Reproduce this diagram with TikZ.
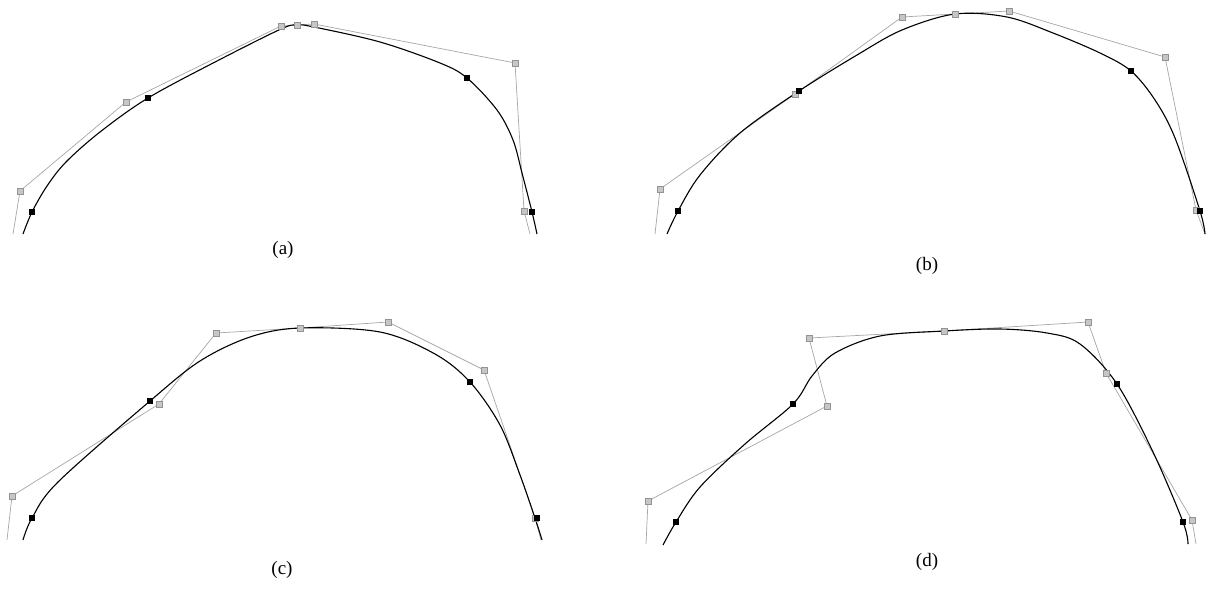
\documentclass[tikz,border=0pt]{standalone}
\usepackage{fontspec}
\setmainfont{Liberation Serif}
\begin{document}
\begin{tikzpicture}[x=1pt,y=-1pt,
  ctrl/.style={rectangle, draw=gray!85, fill=gray!45, line width=0.4pt, minimum size=5.5pt, inner sep=0pt},
  knot/.style={rectangle, fill=black, minimum size=6pt, inner sep=0pt},
  poly/.style={draw=gray!70, line width=0.7pt, line join=round},
  curve/.style={draw=black, line width=1.1pt, line join=round},
  lab/.style={font=\fontsize{19}{22}\selectfont, inner sep=0pt}]
\useasboundingbox (0,0) rectangle (1209,590);

% ---------------- (a)
\coordinate (a0) at (13,234);
\coordinate (a1) at (20,191);
\coordinate (a2) at (126,102);
\coordinate (a3) at (281,26);
\coordinate (a4) at (297,25);
\coordinate (a5) at (314,24);
\coordinate (a6) at (515,63);
\coordinate (a7) at (524,211);
\coordinate (a8) at (530,234);
\draw[poly] (a0) -- (a1) -- (a2) -- (a3) -- (a4) -- (a5) -- (a6) -- (a7) -- (a8);
\draw[curve] plot[smooth, tension=0.55] coordinates {(23,234) (32,212) (47,186) (66,162) (100,132) (148,98) (217,61) (281,29) (297,25) (314,27) (380,42) (440,63) (467,78) (497,110) (513,140) (522,173) (532,212) (537,234)};
\foreach \i in {1,...,7} \node[ctrl] (ca\i) at (a\i) {};
\node[knot] (ka1) at (32,212) {};
\node[knot] (ka2) at (148,98) {};
\node[knot] (ka3) at (467,78) {};
\node[knot] (ka4) at (532,212) {};
\node[lab] (la) at (283,250) {(a)};

% ---------------- (b)
\coordinate (b0) at (655,234);
\coordinate (b1) at (660,189);
\coordinate (b2) at (795,94);
\coordinate (b3) at (902,17);
\coordinate (b4) at (955,14);
\coordinate (b5) at (1009,11);
\coordinate (b6) at (1165,57);
\coordinate (b7) at (1196,210);
\coordinate (b8) at (1205,234);
\draw[poly] (b0) -- (b1) -- (b2) -- (b3) -- (b4) -- (b5) -- (b6) -- (b7) -- (b8);
\draw[curve] plot[smooth, tension=0.55] coordinates {(667,234) (678,211) (700,175) (740,133) (799,91) (857,55) (902,30) (955,14) (1007,17) (1053,33) (1100,53) (1131,71) (1155,100) (1175,138) (1200,211) (1205,234)};
\foreach \i in {1,...,7} \node[ctrl] (cb\i) at (b\i) {};
\node[knot] (kb1) at (678,211) {};
\node[knot] (kb2) at (799,91) {};
\node[knot] (kb3) at (1131,71) {};
\node[knot] (kb4) at (1200,211) {};
\node[lab] (lb) at (927,266) {(b)};

% ---------------- (c)
\coordinate (c0) at (7,540);
\coordinate (c1) at (12,496);
\coordinate (c2) at (159,404);
\coordinate (c3) at (216,333);
\coordinate (c4) at (300,328);
\coordinate (c5) at (388,322);
\coordinate (c6) at (484,370);
\coordinate (c7) at (535,518);
\coordinate (c8) at (541,540);
\draw[poly] (c0) -- (c1) -- (c2) -- (c3) -- (c4) -- (c5) -- (c6) -- (c7) -- (c8);
\draw[curve] plot[smooth, tension=0.55] coordinates {(23,540) (32,518) (58,482) (150,401) (200,361) (250,337) (300,328) (380,332) (435,354) (470,382) (500,425) (520,475) (535,518) (542,540)};
\foreach \i in {1,...,7} \node[ctrl] (cc\i) at (c\i) {};
\node[knot] (kc1) at (32,518) {};
\node[knot] (kc2) at (150,401) {};
\node[knot] (kc3) at (470,382) {};
\node[knot] (kc4) at (537,518) {};
\node[lab] (lc) at (282,570) {(c)};

% ---------------- (d)
\coordinate (d0) at (646,544);
\coordinate (d1) at (648,501);
\coordinate (d2) at (827,406);
\coordinate (d3) at (809,338);
\coordinate (d4) at (944,331);
\coordinate (d5) at (1088,322);
\coordinate (d6) at (1106,373);
\coordinate (d7) at (1192,520);
\coordinate (d8) at (1196,544);
\draw[poly] (d0) -- (d1) -- (d2) -- (d3) -- (d4) -- (d5) -- (d6) -- (d7) -- (d8);
\draw[curve] plot[smooth, tension=0.55] coordinates {(663,545) (676,522) (700,487) (745,444) (793,404) (812,376) (835,353) (880,336) (944,331) (1000,329) (1047,333) (1080,344) (1117,384) (1153,452) (1183,522) (1188,544)};
\foreach \i in {1,...,7} \node[ctrl] (cd\i) at (d\i) {};
\node[knot] (kd1) at (676,522) {};
\node[knot] (kd2) at (793,404) {};
\node[knot] (kd3) at (1117,384) {};
\node[knot] (kd4) at (1183,522) {};
\node[lab] (ld) at (927,562) {(d)};
\end{tikzpicture}
\end{document}
